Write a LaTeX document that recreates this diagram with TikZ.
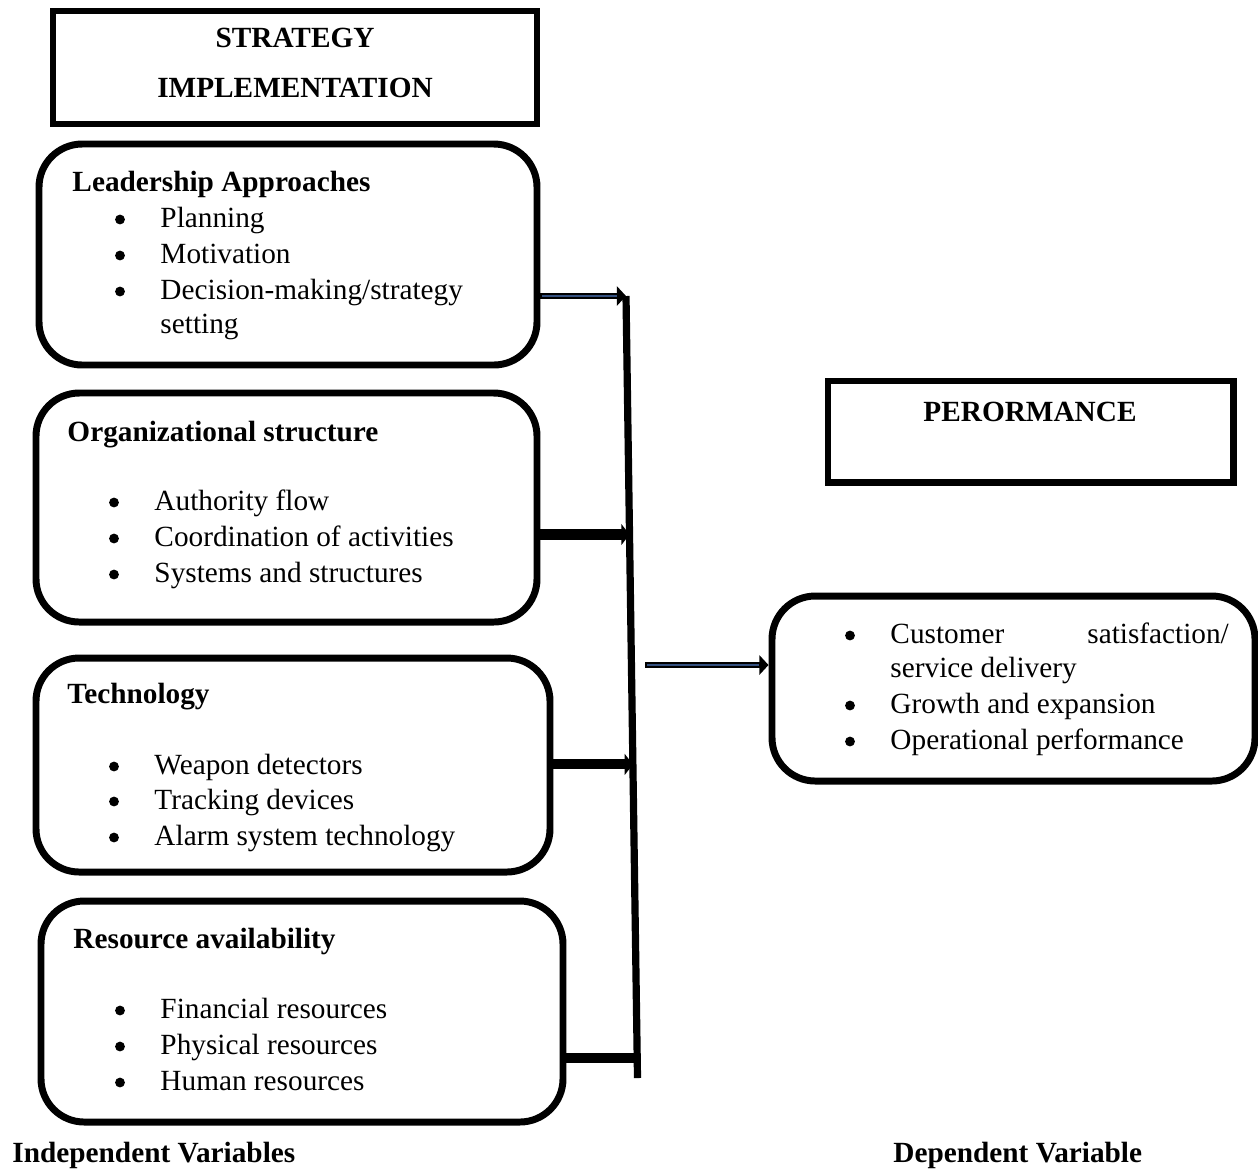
\documentclass[tikz,border=0pt]{standalone}
\usepackage{fontspec}
\setmainfont{Liberation Serif}
\usetikzlibrary{arrows.meta,positioning,calc}
\definecolor{lineblue}{HTML}{34507F}
\newcommand{\pxw}{0.4167pt}

\begin{document}
\begin{tikzpicture}[
  x=0.4167pt, y=-0.4167pt,
  font=\fontsize{12.2pt}{15pt}\selectfont,
  headbox/.style={draw, line width=2.9pt, inner sep=0pt},
  varbox/.style={draw, line width=2.9pt, rounded corners=18pt, inner sep=0pt},
  head/.style={anchor=base, inner sep=0pt, font=\fontsize{12.2pt}{15pt}\selectfont\bfseries},
  title/.style={anchor=base west, inner sep=0pt, font=\fontsize{12.2pt}{15pt}\selectfont\bfseries},
  item/.style={anchor=base west, inner sep=0pt},
  bitem/.style={item, append after command={\pgfextra{%
    \fill ($(\tikzlastnode.base west)+(-40,-7.5)$) circle[radius=2.05pt];}}},
  dblarr/.style={line width=2.6pt, -{Triangle[length=3.8pt, width=8pt]},
    postaction={draw=lineblue, line width=1.1pt, -, shorten >=3.8pt, shorten <=0.8pt}},
  thickarr/.style={line width=4.2pt, -{Triangle[length=3.4pt, width=8.6pt]}},
  thickline/.style={line width=4.2pt},
  bar/.style={line width=3pt},
]
  \useasboundingbox (0,0) rectangle (1258,1171);

  % boxes
  \node[headbox, minimum width=484*\pxw, minimum height=113*\pxw] (strat) at (295,67.5) {};
  \node[varbox, minimum width=498*\pxw, minimum height=221*\pxw] (lead) at (288,254.5) {};
  \node[varbox, minimum width=501*\pxw, minimum height=229*\pxw] (org) at (286.5,507.5) {};
  \node[varbox, minimum width=514*\pxw, minimum height=214*\pxw] (tech) at (293,765) {};
  \node[varbox, minimum width=522*\pxw, minimum height=221*\pxw] (res) at (302,1011.5) {};
  \node[headbox, minimum width=405*\pxw, minimum height=101*\pxw] (perf) at (1030.5,431.5) {};
  \node[varbox, minimum width=483*\pxw, minimum height=185*\pxw] (out) at (1013.5,688.5) {};

  % texts
  \node[head] (stratA) at (295,47.5) {STRATEGY};
  \node[head] (stratB) at (295,97.5) {IMPLEMENTATION};

  \node[title] (leadT) at (72,191) {Leadership Approaches};
  \node[bitem] (lead1) at (160,227) {Planning};
  \node[bitem] (lead2) at (160,263) {Motivation};
  \node[bitem] (lead3) at (160,299) {Decision-making/strategy};
  \node[item] (lead4) at (160,333) {setting};

  \node[title] (orgT) at (67,441) {Organizational structure};
  \node[bitem] (org1) at (154,510) {Authority flow};
  \node[bitem] (org2) at (154,546) {Coordination of activities};
  \node[bitem] (org3) at (154,582) {Systems and structures};

  \node[title] (techT) at (67,703) {Technology};
  \node[bitem] (tech1) at (154,774) {Weapon detectors};
  \node[bitem] (tech2) at (154,809) {Tracking devices};
  \node[bitem] (tech3) at (154,845) {Alarm system technology};

  \node[title] (resT) at (73,948) {Resource availability};
  \node[bitem] (res1) at (160,1018) {Financial resources};
  \node[bitem] (res2) at (160,1054) {Physical resources};
  \node[bitem] (res3) at (160,1090) {Human resources};

  \node[head] (perfT) at (1030,421) {PERORMANCE};

  \node[bitem] (out1) at (890,643) {\makebox[141pt][s]{Customer satisfaction/}};
  \node[item] (out2) at (890,677) {service delivery};
  \node[bitem] (out3) at (890,713) {Growth and expansion};
  \node[bitem] (out4) at (890,749) {Operational performance};

  \node[title] (indep) at (12,1162) {Independent Variables};
  \node[title] (dep) at (893,1162) {Dependent Variable};

  % connectors
  \coordinate (bartop) at (626,296);
  \coordinate (barbot) at (637.5,1078);
  \coordinate (jout) at (645,665);
  \path (bartop) -- (barbot) coordinate[pos=0.305] (jorg)
    coordinate[pos=0.599] (jtech) coordinate[pos=0.974] (jres);

  \draw[bar] (bartop) -- (barbot);
  \draw[dblarr] (lead.east |- bartop) -- (bartop);
  \draw[thickarr] (org.east |- jorg) -- (jorg);
  \draw[thickarr] (tech.east |- jtech) -- (jtech);
  \draw[thickline] (res.east |- jres) -- (jres);
  \draw[dblarr] (jout) -- (out.west |- jout);
\end{tikzpicture}
\end{document}
